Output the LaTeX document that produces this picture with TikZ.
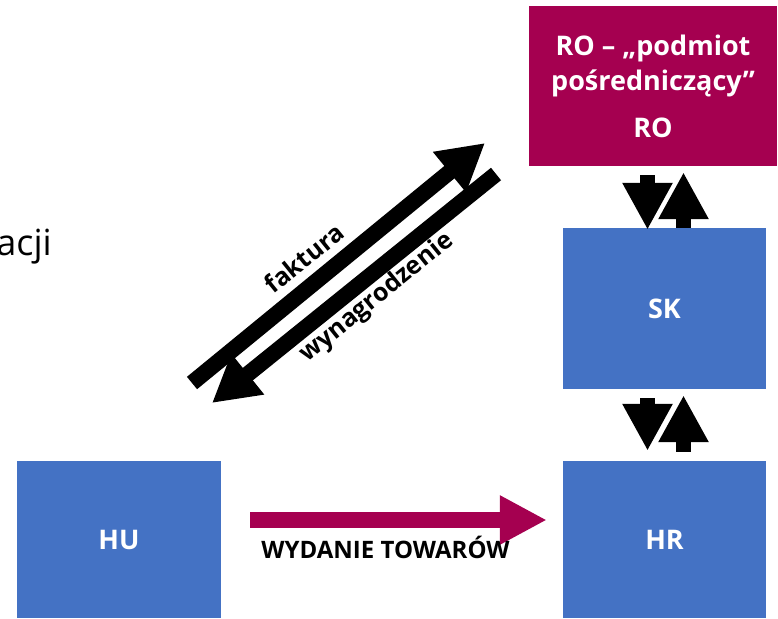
\documentclass[tikz,border=0pt]{standalone}
\usepackage{fontspec}
\setmainfont{Open Sans}
\usetikzlibrary{arrows.meta,calc}
\definecolor{romag}{RGB}{165,0,80}
\definecolor{boxblue}{RGB}{68,114,196}
\begin{document}
\begin{tikzpicture}[x=1pt,y=-1pt,
  bluebox/.style={fill=boxblue, draw=none, text=white,
    font=\bfseries\fontsize{27}{32}\selectfont,
    minimum width=203pt, minimum height=157pt, inner sep=0pt},
  robox/.style={fill=romag, draw=none, text=white, align=center,
    font=\bfseries\fontsize{27}{35}\selectfont,
    minimum width=248pt, minimum height=160pt, inner sep=0pt},
  blk/.style={line width=15pt, -{Triangle[length=47pt,width=47pt]}},
  diag/.style={line width=16pt, -{Triangle[length=46pt,width=49pt]}},
  magarrow/.style={romag, line width=16pt, -{Triangle[length=47pt,width=46pt]}},
  lbl/.style={font=\bfseries\fontsize{25}{30}\selectfont, inner sep=0pt},
]
\useasboundingbox (0,0) rectangle (778,618);
% boxes
\node[robox] (RO) at (653,86) {RO – „podmiot\\pośredniczący”\\[12pt]RO};
\node[bluebox, minimum height=161pt] (SK) at (664.5,308.5) {SK};
\node[bluebox] (HR) at (664.5,539.5) {HR};
\node[bluebox, minimum width=204pt] (HU) at (119,539.5) {HU};
% partial text
\node[anchor=base east, inner sep=0pt, font=\fontsize{36}{40}\selectfont] (acji) at (52,255) {acji};
% vertical arrows RO <-> SK
\draw[blk] ($(RO.south)+(-5.5,9)$) -- ($(SK.north)+(-17,2)$);
\draw[blk] ($(SK.north)+(19,0)$) -- ($(RO.south)+(30.5,6)$);
% vertical arrows SK <-> HR
\draw[blk] ($(SK.south)+(-17,9)$) -- ($(HR.north)+(-17,-10)$);
\draw[blk] ($(HR.north)+(19,-9)$) -- ($(SK.south)+(19,6)$);
% diagonal arrows
\coordinate (ftail) at (192,383);
\coordinate (ftip) at (485,143);
\coordinate (wtail) at (496,174);
\coordinate (wtip) at (212,403);
\draw[diag] (ftail) -- (ftip);
\draw[diag] (wtail) -- (wtip);
\node[lbl, rotate=39] (faktura) at (304,258) {faktura};
\node[lbl, rotate=39] (wyn) at (377,298) {wynagrodzenie};
% goods arrow
\draw[magarrow] ($(HU.east)+(29,-19.5)$) -- ($(HR.west)+(-16,-19.5)$);
\node[lbl, anchor=base, font=\bfseries\fontsize{24}{28}\selectfont] (wt) at (385.5,558) {WYDANIE TOWARÓW};
\end{tikzpicture}
\end{document}
